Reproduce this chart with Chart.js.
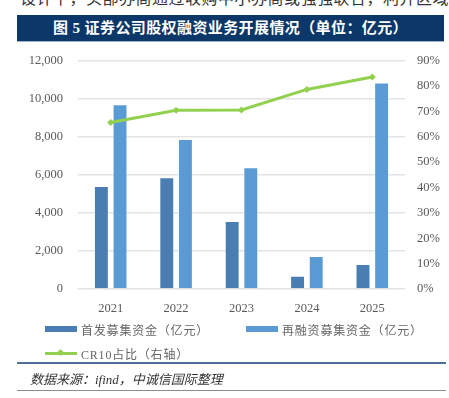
<!DOCTYPE html>
<html>
<head>
<meta charset="utf-8">
<script src="https://cdn.jsdelivr.net/npm/chart.js@4"></script>
<style>
  body { margin: 0; width: 449px; height: 398px; background: #fff; position: relative; overflow: hidden;
         font-family: "Liberation Serif", "Noto Sans CJK SC", serif; }
  .topline { position: absolute; left: 20px; top: -15px; font-size: 16px; color: #333; white-space: nowrap;
             letter-spacing: 0.5px; font-family: "Liberation Serif", "Noto Sans CJK SC"; }
  .titlebar { position: absolute; left: 17px; top: 15px; width: 427px; height: 26px; background: #0b3868;
              border-bottom: 1px solid #9fb2c9; color: #fff; font-weight: bold; font-size: 15px;
              line-height: 26px; text-align: center; letter-spacing: 0.4px;
              font-family: "Liberation Serif", "Noto Sans CJK SC"; }
  #wrap { position: absolute; left: 0; top: 38px; width: 449px; height: 287px; }
  .legend { position: absolute; font-size: 12px; color: #666; letter-spacing: 0.8px; white-space: nowrap;
            font-family: "Liberation Serif", "Noto Sans CJK SC"; }
  .legend span.sw { position: absolute; left: -36px; top: 5px; width: 32px; height: 6px; }
  .sep { position: absolute; left: 17px; width: 429px; }
  .source { position: absolute; left: 30px; top: 369px; font-size: 13px; font-style: italic; color: #333;
            font-family: "Liberation Serif", "Noto Sans CJK SC"; }
</style>
</head>
<body>
<div class="topline">设计下，头部券商通过收购中小券商或强强联合，利并区域</div>
<div id="wrap"><canvas id="chart"></canvas></div>
<div class="titlebar">图 5 证券公司股权融资业务开展情况（单位：亿元）</div>
<div id="legend"></div>
<div class="sep" style="top:362px;height:2px;background:#4d6f98;"></div>
<div class="source">数据来源：ifind，中诚信国际整理</div>
<div class="sep" style="top:390px;height:1px;background:#8c8c8c;"></div>
<script>
// data
const years = ['2021', '2022', '2023', '2024', '2025'];
const ipoFunds = [5410, 5870, 3570, 690, 1310];
const refinanceFunds = [9700, 7880, 6390, 1730, 10850];
const cr10Share = [65.6, 70.4, 70.5, 78.6, 83.5];
const leftTicks = [0, 2000, 4000, 6000, 8000, 10000, 12000];
const rightTicks = [0, 10, 20, 30, 40, 50, 60, 70, 80, 90];

const darkBlue = '#4a7db1';
const lightBlue = '#5b9bd5';
const green = '#92d050';
const tickFont = { family: 'Liberation Serif', size: 12.5 };

const ctx = document.getElementById('chart').getContext('2d');
const chart = new Chart(ctx, {
  type: 'bar',
  data: {
    labels: years,
    datasets: [
      {
        label: '首发募集资金（亿元）',
        data: ipoFunds,
        backgroundColor: darkBlue,
        borderColor: 'rgba(255,255,255,0.5)',
        borderWidth: 1,
        categoryPercentage: 0.57,
        barPercentage: 0.8,
        yAxisID: 'y',
        order: 1
      },
      {
        label: '再融资募集资金（亿元）',
        data: refinanceFunds,
        backgroundColor: lightBlue,
        borderColor: 'rgba(255,255,255,0.5)',
        borderWidth: 1,
        categoryPercentage: 0.57,
        barPercentage: 0.8,
        yAxisID: 'y',
        order: 1
      },
      {
        type: 'line',
        label: 'CR10占比（右轴）',
        data: cr10Share,
        borderColor: green,
        backgroundColor: green,
        borderWidth: 3,
        pointStyle: 'rectRot',
        pointRadius: 3.5,
        pointBorderWidth: 0,
        tension: 0,
        yAxisID: 'y1',
        order: 0
      }
    ]
  },
  options: {
    responsive: true,
    maintainAspectRatio: false,
    animation: false,
    layout: { padding: 0 },
    plugins: { legend: { display: false }, tooltip: { enabled: false } },
    scales: {
      x: {
        grid: { display: false },
        border: { display: false },
        ticks: { color: '#595959', font: tickFont, padding: 4 },
        afterFit: function (s) { s.height = 36; }
      },
      y: {
        position: 'left',
        min: 0, max: 12000,
        afterBuildTicks: function (s) { s.ticks = leftTicks.map(v => ({ value: v })); },
        grid: { color: '#e3e3e3', lineWidth: 1.5, drawTicks: false },
        border: { display: false },
        ticks: {
          color: '#595959', font: tickFont, padding: 15,
          callback: v => v.toLocaleString('en-US')
        },
        afterFit: function (s) { s.width = 78; }
      },
      y1: {
        position: 'right',
        min: 0, max: 90,
        afterBuildTicks: function (s) { s.ticks = rightTicks.map(v => ({ value: v })); },
        grid: { display: false, drawTicks: false },
        border: { display: false },
        ticks: { color: '#595959', font: tickFont, padding: 12, callback: v => v + '%' },
        afterFit: function (s) { s.width = 44; }
      }
    }
  }
});

// legend built from the datasets
const legendPos = [
  { left: 81, top: 321 },
  { left: 282, top: 321 },
  { left: 81, top: 345 }
];
const legendBox = document.getElementById('legend');
chart.data.datasets.forEach(function (ds, i) {
  const item = document.createElement('div');
  item.className = 'legend';
  item.style.left = legendPos[i].left + 'px';
  item.style.top = legendPos[i].top + 'px';
  const sw = document.createElement('span');
  sw.className = 'sw';
  if (ds.type === 'line') {
    sw.style.height = '3px';
    sw.style.top = '7px';
    sw.style.background = ds.borderColor;
    const dot = document.createElement('span');
    dot.style.cssText = 'position:absolute;left:13px;top:-2px;width:5px;height:5px;transform:rotate(45deg);background:' + ds.borderColor;
    sw.appendChild(dot);
  } else {
    sw.style.background = ds.backgroundColor;
  }
  item.appendChild(sw);
  item.appendChild(document.createTextNode(ds.label));
  legendBox.appendChild(item);
});
</script>
</body>
</html>
